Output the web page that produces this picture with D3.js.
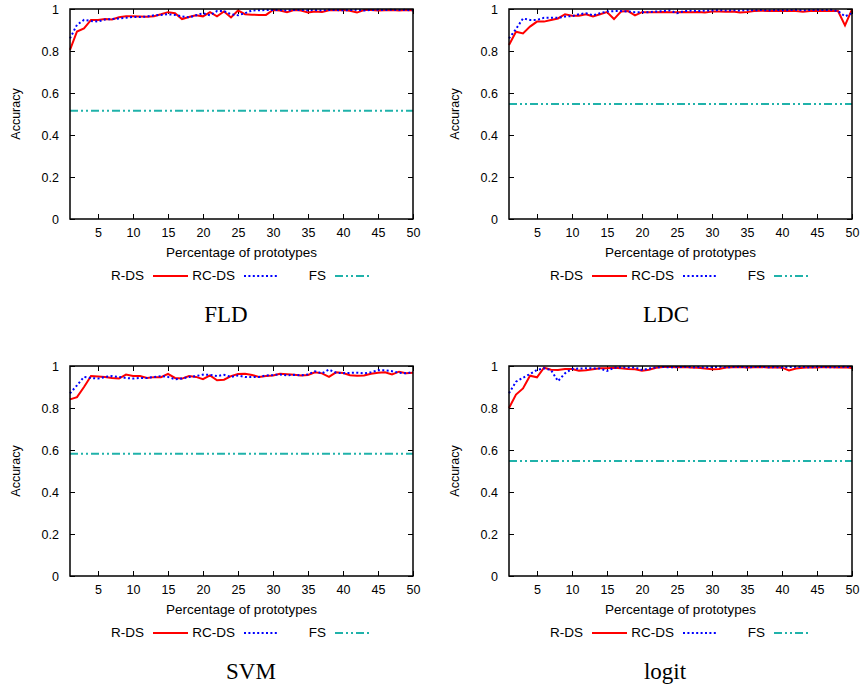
<!DOCTYPE html>
<html lang="en">
<head>
  <meta charset="UTF-8">
  <title>Accuracy vs percentage of prototypes</title>
  <script src='https://d3js.org/d3.v7.min.js'></script>
  <style>
    body { margin: 0; background: #fff; }
    text { font-family: 'Liberation Sans', Arial, sans-serif; fill: #000; }
    .caption { font-family: 'Liberation Serif', 'Times New Roman', serif; }
  </style>
</head>
<body>
</body>
<script>
  const width = 862, height = 687;

  // data
  const percentages = [1,2,3,4,5,6,7,8,9,10,11,12,13,14,15,16,17,18,19,20,21,22,23,24,25,
    26,27,28,29,30,31,32,33,34,35,36,37,38,39,40,41,42,43,44,45,46,47,48,49,50];
  const xTicks = [5,10,15,20,25,30,35,40,45,50];
  const yTicks = [0,0.2,0.4,0.6,0.8,1];
  const seriesNames = ['R-DS','RC-DS','FS'];
  const classifiers = ['FLD','LDC','SVM','logit'];

  const fldRDS = [0.805,0.893,0.908,0.948,0.948,0.952,0.95,0.961,0.965,0.965,0.964,0.963,0.966,0.975,0.985,0.98,0.952,0.962,0.97,0.965,
    0.985,0.965,0.988,0.96,0.993,0.975,0.973,0.972,0.972,0.995,0.993,0.985,0.995,0.993,0.983,0.988,0.986,0.994,0.994,0.995,
    0.992,0.983,0.995,0.995,0.993,0.994,0.995,0.993,0.995,0.994];
  const fldRCDS = [0.86,0.925,0.948,0.943,0.94,0.95,0.952,0.955,0.958,0.962,0.962,0.964,0.97,0.972,0.975,0.972,0.965,0.96,0.97,0.98,
    0.97,0.99,0.99,0.975,0.97,0.98,0.993,0.994,0.995,0.995,0.995,0.993,0.995,0.996,0.994,0.995,0.993,0.996,0.995,0.994,
    0.995,0.996,0.993,0.995,0.996,0.995,0.997,0.995,0.996,0.993];
  const fldFS = 0.515;

  const ldcRDS = [0.829,0.892,0.884,0.916,0.94,0.94,0.948,0.955,0.975,0.968,0.968,0.975,0.964,0.975,0.985,0.952,0.988,0.99,0.97,0.985,
    0.985,0.985,0.986,0.984,0.985,0.986,0.985,0.986,0.983,0.988,0.988,0.987,0.988,0.983,0.986,0.99,0.992,0.991,0.99,0.992,
    0.99,0.991,0.987,0.99,0.992,0.99,0.991,0.99,0.922,0.998];
  const ldcRCDS = [0.86,0.905,0.955,0.948,0.948,0.958,0.958,0.958,0.964,0.966,0.975,0.98,0.97,0.98,0.988,0.99,0.99,0.988,0.985,0.985,
    0.985,0.988,0.99,0.993,0.98,0.99,0.992,0.99,0.992,0.993,0.995,0.993,0.994,0.993,0.995,0.994,0.995,0.993,0.995,0.994,
    0.995,0.996,0.994,0.995,0.996,0.995,0.996,0.99,0.965,0.98];
  const ldcFS = 0.548;

  const svmRDS = [0.841,0.852,0.9,0.952,0.95,0.948,0.943,0.94,0.959,0.952,0.952,0.943,0.947,0.947,0.963,0.943,0.94,0.952,0.948,0.937,
    0.955,0.932,0.935,0.952,0.962,0.963,0.957,0.948,0.952,0.955,0.963,0.961,0.958,0.955,0.957,0.97,0.965,0.948,0.97,0.967,
    0.956,0.953,0.955,0.963,0.968,0.97,0.96,0.973,0.966,0.968];
  const svmRCDS = [0.87,0.908,0.948,0.943,0.94,0.948,0.952,0.948,0.943,0.94,0.943,0.943,0.948,0.952,0.948,0.937,0.94,0.948,0.952,0.959,
    0.958,0.952,0.958,0.948,0.955,0.948,0.947,0.948,0.955,0.957,0.96,0.955,0.958,0.956,0.96,0.975,0.965,0.983,0.968,0.966,
    0.967,0.968,0.965,0.97,0.98,0.98,0.975,0.968,0.965,0.972];
  const svmFS = 0.582;

  const logitRDS = [0.80,0.864,0.893,0.954,0.946,0.992,0.982,0.981,0.986,0.986,0.978,0.98,0.985,0.989,0.989,0.992,0.989,0.986,0.984,0.978,
    0.982,0.992,0.995,0.995,0.994,0.995,0.993,0.992,0.988,0.984,0.986,0.993,0.994,0.995,0.993,0.994,0.995,0.993,0.994,0.992,
    0.979,0.988,0.992,0.994,0.993,0.995,0.994,0.993,0.994,0.99];
  const logitRCDS = [0.87,0.925,0.944,0.962,0.981,0.989,0.981,0.928,0.965,0.986,0.988,0.989,0.989,0.988,0.976,0.992,0.994,0.993,0.993,0.981,
    0.988,0.993,0.995,0.994,0.995,0.996,0.994,0.995,0.993,0.995,0.996,0.994,0.995,0.996,0.994,0.995,0.996,0.994,0.995,0.993,
    0.995,0.996,0.995,0.994,0.996,0.995,0.994,0.995,0.996,0.994];
  const logitFS = 0.548;

  const rds = [fldRDS, ldcRDS, svmRDS, logitRDS];
  const rcds = [fldRCDS, ldcRCDS, svmRCDS, logitRCDS];
  const fs = [fldFS, ldcFS, svmFS, logitFS];

  // layout of the four panels
  const panelLeft = [70, 509, 70, 509];
  const panelTop = [9, 9, 366, 366];
  const captionX = [226, 666, 251, 665];
  const plotW = 343, plotH = 210;

  const styles = [
    {color: '#ff0000', width: 2, dash: null},
    {color: '#0000ff', width: 2, dash: '2,2.4'},
    {color: '#20b2aa', width: 2, dash: '8,3,2,3,2,3'}
  ];

  const svg = d3.select('body').append('svg').attr('width', width).attr('height', height);

  classifiers.forEach(function(name, i) {
    const x = d3.scaleLinear().domain([1, 50]).range([0, plotW]);
    const y = d3.scaleLinear().domain([0, 1]).range([plotH, 0]);
    const g = svg.append('g').attr('transform', `translate(${panelLeft[i]},${panelTop[i]})`);

    // axes (ticks inward, mirrored)
    g.append('g').attr('transform', `translate(0,${plotH})`)
      .call(d3.axisBottom(x).tickValues(xTicks).tickSizeInner(-5).tickSizeOuter(0).tickPadding(9))
      .call(a => a.select('.domain').remove());
    g.append('g')
      .call(d3.axisTop(x).tickValues(xTicks).tickSizeInner(-5).tickSizeOuter(0).tickFormat(''))
      .call(a => a.select('.domain').remove());
    g.append('g')
      .call(d3.axisLeft(y).tickValues(yTicks).tickSizeInner(-5).tickSizeOuter(0).tickPadding(11)
        .tickFormat(d => String(+d.toFixed(1))))
      .call(a => a.select('.domain').remove());
    g.append('g').attr('transform', `translate(${plotW},0)`)
      .call(d3.axisRight(y).tickValues(yTicks).tickSizeInner(-5).tickSizeOuter(0).tickFormat(''))
      .call(a => a.select('.domain').remove());
    g.selectAll('.tick line').attr('stroke', '#000').attr('stroke-width', 1);
    g.selectAll('.tick text').attr('font-size', 12.5).attr('font-family', "'Liberation Sans', Arial, sans-serif");

    // series
    const line = d3.line().x((d, j) => x(percentages[j])).y(d => y(d));
    const lines = [rds[i], rcds[i], percentages.map(() => fs[i])];
    lines.forEach(function(vals, k) {
      g.append('path').datum(vals)
        .attr('d', line)
        .attr('fill', 'none')
        .attr('stroke', styles[k].color)
        .attr('stroke-width', styles[k].width)
        .attr('stroke-dasharray', styles[k].dash)
        .attr('stroke-linejoin', 'miter');
    });

    // frame
    g.append('rect').attr('width', plotW).attr('height', plotH)
      .attr('fill', 'none').attr('stroke', '#000').attr('stroke-width', 1.5);

    // labels
    g.append('text').attr('x', plotW / 2).attr('y', plotH + 38)
      .attr('text-anchor', 'middle').attr('font-size', 13.5).text('Percentage of prototypes');
    g.append('text').attr('transform', `translate(${-50},${plotH / 2}) rotate(-90)`)
      .attr('text-anchor', 'middle').attr('font-size', 12.5).text('Accuracy');

    // legend
    seriesNames.forEach(function(s, k) {
      const tx = 74 + k * 91;
      g.append('text').attr('x', tx).attr('y', plotH + 61)
        .attr('text-anchor', 'end').attr('font-size', 13.5).text(s);
      g.append('line').attr('x1', tx + 9).attr('x2', tx + 44)
        .attr('y1', plotH + 57).attr('y2', plotH + 57)
        .attr('stroke', styles[k].color).attr('stroke-width', styles[k].width)
        .attr('stroke-dasharray', styles[k].dash);
    });

    // caption
    svg.append('text').attr('class', 'caption')
      .attr('x', captionX[i]).attr('y', panelTop[i] + plotH + 103)
      .attr('text-anchor', 'middle').attr('font-size', 23).text(name);
  });
  console.log('ready..');
</script>
</html>
